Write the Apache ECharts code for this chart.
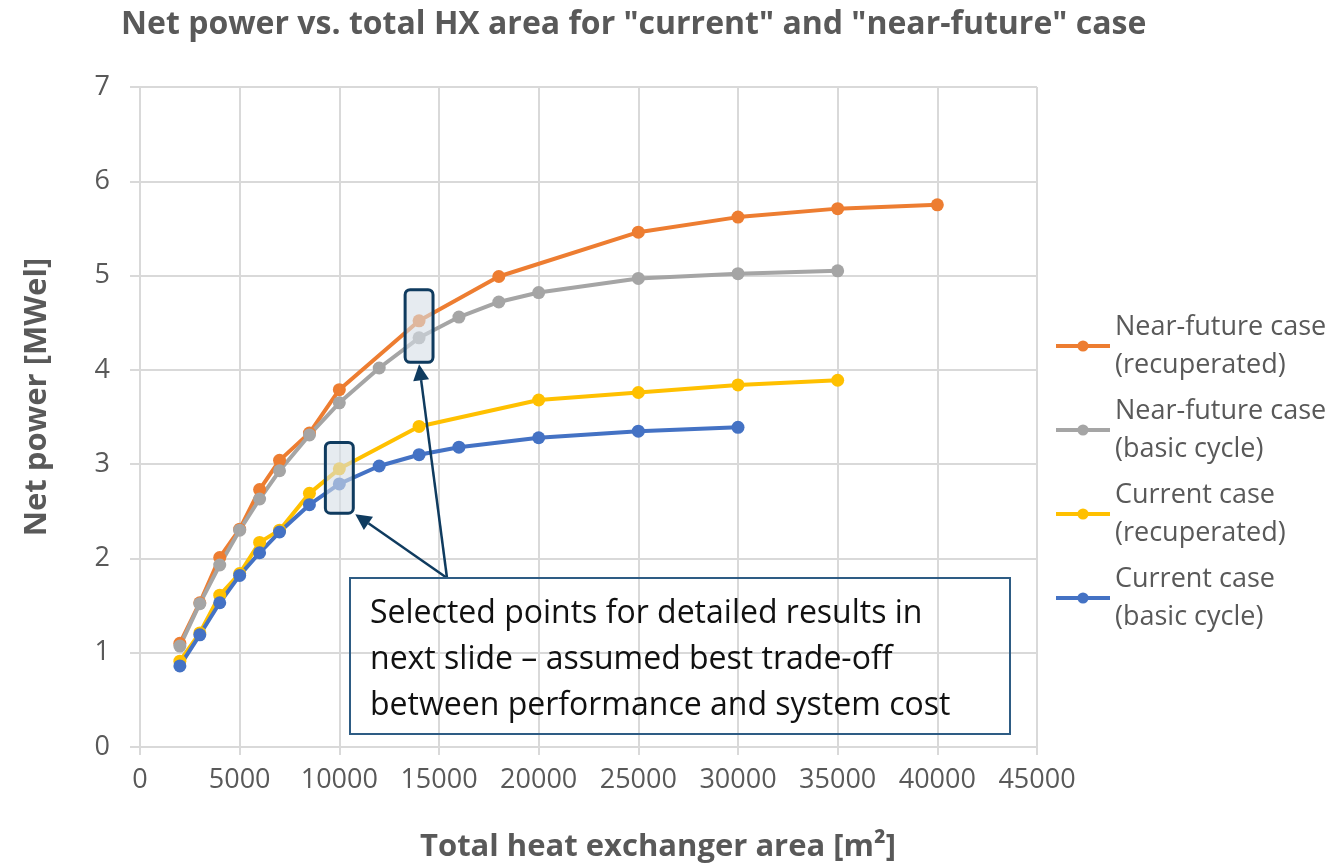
<!DOCTYPE html>
<html>
<head>
<meta charset="utf-8">
<script src="https://cdn.jsdelivr.net/npm/echarts@6/dist/echarts.min.js"></script>
<style>
  html, body { margin: 0; padding: 0; background: #fff; }
  #chart { width: 1342px; height: 865px; }
</style>
</head>
<body>
<div id="chart"></div>
<script>
// data
var nfRecupX = [2000, 3000, 4000, 5000, 6000, 7000, 8500, 10000, 14000, 18000, 25000, 30000, 35000, 40000];
var nfRecupY = [1.10, 1.53, 2.01, 2.31, 2.73, 3.04, 3.33, 3.79, 4.52, 4.99, 5.46, 5.62, 5.71, 5.75];

var nfBasicX = [2000, 3000, 4000, 5000, 6000, 7000, 8500, 10000, 12000, 14000, 16000, 18000, 20000, 25000, 30000, 35000];
var nfBasicY = [1.07, 1.52, 1.93, 2.30, 2.63, 2.93, 3.31, 3.65, 4.02, 4.34, 4.56, 4.72, 4.82, 4.97, 5.02, 5.05];

var curRecupX = [2000, 3000, 4000, 5000, 6000, 7000, 8500, 10000, 14000, 20000, 25000, 30000, 35000];
var curRecupY = [0.91, 1.21, 1.61, 1.84, 2.17, 2.30, 2.69, 2.95, 3.40, 3.68, 3.76, 3.84, 3.89];

var curBasicX = [2000, 3000, 4000, 5000, 6000, 7000, 8500, 10000, 12000, 14000, 16000, 20000, 25000, 30000];
var curBasicY = [0.86, 1.19, 1.53, 1.82, 2.06, 2.28, 2.57, 2.79, 2.98, 3.10, 3.18, 3.28, 3.35, 3.39];

var seriesNames = ['Near-future case (recuperated)', 'Near-future case (basic cycle)',
                   'Current case (recuperated)', 'Current case (basic cycle)'];
var seriesColors = ['#ED7D31', '#A5A5A5', '#FFC000', '#4472C4'];

// selected points (highlighted boxes)
var selectedX = [14000, 10000];
var selectedLow = [4.08, 2.48];
var selectedHigh = [4.85, 3.23];

var xTicks = [0, 5000, 10000, 15000, 20000, 25000, 30000, 35000, 40000, 45000];

function pairs(xs, ys) {
  return xs.map(function (x, i) { return [x, ys[i]]; });
}

var font = '"Open Sans", sans-serif';
var grey = '#595959';

var chart = echarts.init(document.getElementById('chart'), null, { renderer: 'canvas' });

var allData = [pairs(nfRecupX, nfRecupY), pairs(nfBasicX, nfBasicY),
               pairs(curRecupX, curRecupY), pairs(curBasicX, curBasicY)];

var option = {
  animation: false,
  textStyle: { fontFamily: font },
  title: {
    text: 'Net power vs. total HX area for "current" and "near-future" case',
    left: 116, top: 4,
    textStyle: { fontFamily: font, fontSize: 32, fontWeight: 'bold', color: grey }
  },
  grid: { left: 140, right: 305, top: 87, bottom: 118 },
  legend: {
    orient: 'vertical',
    left: 1049, top: 284,
    padding: 5,
    itemWidth: 54, itemHeight: 14, itemGap: -30, textGap: 4,
    data: seriesNames,
    lineStyle: { width: 4 },
    formatter: function (name) { return name.replace(' (', '\n('); },
    textStyle: { fontFamily: font, fontSize: 27, lineHeight: 38, color: grey, padding: [38, 0, 0, 0] }
  },
  xAxis: {
    type: 'value', min: 0, max: 45000, interval: 5000,
    axisLine: { show: true, lineStyle: { color: '#D9D9D9', width: 2 } },
    axisTick: { show: true, length: 8, lineStyle: { color: '#D9D9D9', width: 2 } },
    axisLabel: { fontFamily: font, fontSize: 27, color: grey, margin: 20,
      formatter: function (v) { return xTicks.indexOf(v) >= 0 ? String(v) : ''; } },
    splitLine: { show: true, lineStyle: { color: '#D9D9D9', width: 2 } }
  },
  yAxis: {
    type: 'value', min: 0, max: 7, interval: 1,
    axisLine: { show: false },
    axisTick: { show: true, length: 10, lineStyle: { color: '#D9D9D9', width: 2 } },
    axisLabel: { fontFamily: font, fontSize: 27, color: grey, margin: 30 },
    splitLine: { show: true, lineStyle: { color: '#D9D9D9', width: 2 } }
  },
  series: allData.map(function (d, i) {
    return {
      name: seriesNames[i],
      type: 'line',
      data: d,
      symbol: 'circle',
      symbolSize: 13,
      showSymbol: true,
      color: seriesColors[i],
      lineStyle: { width: 4, color: seriesColors[i] },
      itemStyle: { color: seriesColors[i] }
    };
  })
};

chart.setOption(option);

// annotations placed through the chart's own coordinate conversion
var navy = '#0F3B5F';
var g = [];
selectedX.forEach(function (x, i) {
  var p1 = chart.convertToPixel({ gridIndex: 0 }, [x - 700, selectedHigh[i]]);
  var p2 = chart.convertToPixel({ gridIndex: 0 }, [x + 700, selectedLow[i]]);
  g.push({
    type: 'rect', z: 100,
    shape: { x: p1[0], y: p1[1], width: p2[0] - p1[0], height: p2[1] - p1[1], r: 5 },
    style: { fill: 'rgba(214,222,230,0.6)', stroke: navy, lineWidth: 3 }
  });
});

function arrow(x0, y0, x1, y1) {
  var ang = Math.atan2(y1 - y0, x1 - x0);
  var len = 16, half = 8;
  var bx = x1 - len * Math.cos(ang), by = y1 - len * Math.sin(ang);
  var nx = -Math.sin(ang) * half, ny = Math.cos(ang) * half;
  g.push({ type: 'line', z: 100, shape: { x1: x0, y1: y0, x2: bx, y2: by },
    style: { stroke: navy, lineWidth: 2.5 } });
  g.push({ type: 'polygon', z: 100, shape: { points: [[x1, y1], [bx + nx, by + ny], [bx - nx, by - ny]] },
    style: { fill: navy } });
}
var tip1 = chart.convertToPixel({ gridIndex: 0 }, [selectedX[0], selectedLow[0]]);
var tip2 = chart.convertToPixel({ gridIndex: 0 }, [selectedX[1] + 700, selectedLow[1]]);
arrow(447, 578, tip1[0], tip1[1] + 2);
arrow(447, 578, tip2[0] + 2, tip2[1] + 1);

g.push({
  type: 'rect', z: 100,
  shape: { x: 350, y: 578, width: 660, height: 156 },
  style: { fill: 'none', stroke: '#2E5C84', lineWidth: 2 }
});
g.push({
  type: 'text', z: 101, x: 370, y: 591,
  style: {
    text: 'Selected points for detailed results in\nnext slide \u2013 assumed best trade-off\nbetween performance and system cost',
    font: '32px ' + font, fill: '#111', lineHeight: 46
  }
});
g.push({
  type: 'text', z: 101, x: 658, y: 847,
  style: { text: 'Total heat exchanger area [m\u00B2]', font: 'bold 31px ' + font, fill: grey,
    align: 'center', verticalAlign: 'middle' }
});
g.push({
  type: 'text', z: 101, x: 37, y: 397, rotation: Math.PI / 2,
  style: { text: 'Net power [MWel]', font: 'bold 31px ' + font, fill: grey,
    align: 'center', verticalAlign: 'middle' }
});

chart.setOption({ graphic: g });

window.addEventListener('resize', chart.resize);
</script>
</body>
</html>
